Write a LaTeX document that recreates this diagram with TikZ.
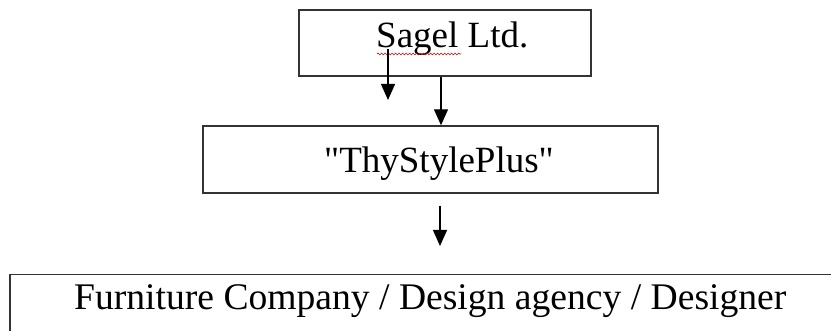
\documentclass[tikz,border=0pt]{standalone}
\usepackage{fontspec}
\setmainfont{Liberation Serif}
\newfontfamily\qfont{Liberation Serif}[Ligatures=NoCommon]
\usetikzlibrary{arrows.meta,decorations.pathmorphing}
\begin{document}
\begin{tikzpicture}[x=1pt,y=-1pt,
  boxstyle/.style={draw=black!80,line width=1.4pt,rectangle,inner sep=0pt},
  lbl/.style={font=\fontsize{37}{40}\selectfont,inner sep=0pt,anchor=base west},
  arr/.style={line width=1.3pt,-{Triangle[length=16pt,width=14pt]}}]
\clip (0,0) rectangle (831,331);
\fill[white] (0,0) rectangle (831,331);
% boxes
\node[boxstyle,minimum width=292pt,minimum height=66pt] (sagel) at (445,43) {};
\node[boxstyle,minimum width=455pt,minimum height=67pt] (thy) at (430.5,159.5) {};
\node[boxstyle,minimum width=840pt,minimum height=75pt] (furn) at (430,312) {};
% labels
\node[lbl] (sagellbl) at (376,48) {Sagel Ltd.};
\node[lbl,font=\qfont\fontsize{37}{40}\selectfont] (thylbl) at (324,173) {"ThyStylePlus"};
\node[lbl,font=\fontsize{37.6}{40}\selectfont] (furnlbl) at (74,310) {Furniture Company / Design agency / Designer};
% spell-check underline
\coordinate (sqa) at (377,54);
\coordinate (sqb) at (461,54);
\draw[red!80!black,line width=0.6pt,decorate,decoration={snake,amplitude=0.9pt,segment length=3.5pt}] (sqa) -- (sqb);
% arrows
\coordinate (a1s) at (388,49);
\coordinate (a1e) at (388,100);
\draw[arr] (a1s) -- (a1e);
\coordinate (x2) at (441,0);
\draw[arr] (sagel.south -| x2) -- (thy.north -| x2);
\coordinate (a3s) at (440,206);
\coordinate (a3e) at (440,246);
\draw[arr] (a3s) -- (a3e);
\end{tikzpicture}
\end{document}
